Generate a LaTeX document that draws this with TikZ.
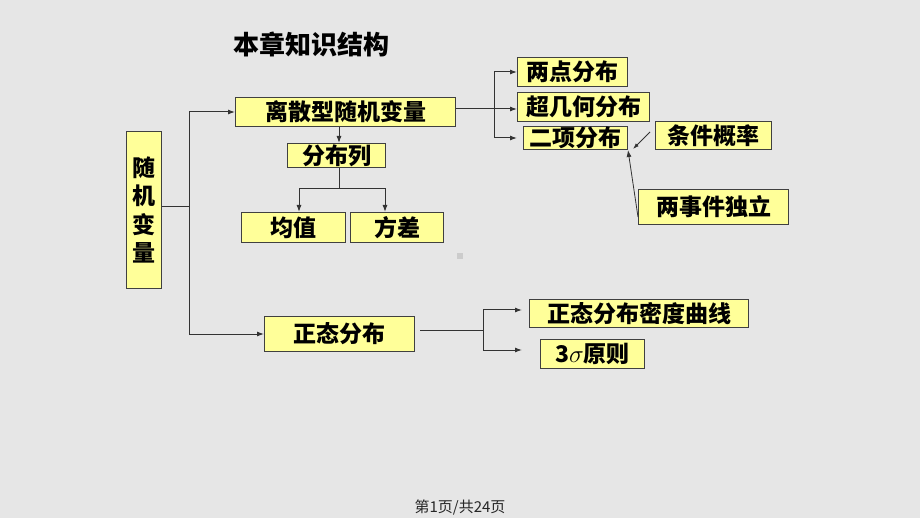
\documentclass[tikz,border=0pt]{standalone}
\usepackage{fontspec}
\newfontfamily\cjk{Noto Sans CJK SC}
\usetikzlibrary{arrows.meta}
\definecolor{bg}{HTML}{E6E6E6}
\definecolor{boxfill}{HTML}{FFFF99}
\definecolor{boxline}{HTML}{404040}
\definecolor{linec}{HTML}{333333}
\tikzset{
  box/.style={draw=boxline, fill=boxfill, line width=1pt, inner sep=0pt, anchor=north west,
    font=\cjk\bfseries\fontsize{23}{26}\selectfont},
  conn/.style={draw=linec, line width=1pt},
  arr/.style={conn, -{Latex[length=7pt,width=5pt]}},
}
\begin{document}
\begin{tikzpicture}[x=1pt,y=-1pt]
\useasboundingbox[fill=bg] (0,0) rectangle (920,518);
% title
\node[font=\cjk\bfseries\fontsize{26}{30}\selectfont] (title) at (311,44) {本章知识结构};
% boxes
\node[box, minimum width=35pt, minimum height=157pt, align=center,
  font=\cjk\bfseries\fontsize{23}{28.3}\selectfont] (rv) at (126,131) {随\\机\\变\\量};
\node[box, minimum width=220pt, minimum height=29pt] (disc) at (235,97) {离散型随机变量};
\node[box, minimum width=98pt, minimum height=24pt] (dlist) at (287,143) {分布列};
\node[box, minimum width=104pt, minimum height=30pt] (mean) at (241,212) {均值};
\node[box, minimum width=93pt, minimum height=30pt] (var) at (350,212) {方差};
\node[box, minimum width=110pt, minimum height=29pt] (twopt) at (517,57) {两点分布};
\node[box, minimum width=132pt, minimum height=29pt] (hyper) at (517,92) {超几何分布};
\node[box, minimum width=104pt, minimum height=23pt] (binom) at (523,126) {二项分布};
\node[box, minimum width=116pt, minimum height=28pt] (cond) at (655,121) {条件概率};
\node[box, minimum width=150pt, minimum height=35pt] (indep) at (638,189) {两事件独立};
\node[box, minimum width=150pt, minimum height=35pt] (norm) at (264,316) {正态分布};
\node[box, minimum width=219pt, minimum height=28pt] (dens) at (529,299) {正态分布密度曲线};
\node[box, minimum width=104pt, minimum height=29pt] (sig) at (540,339) {3\(\sigma\)原则};
% small square
\fill[fill=black!20] (457,253) rectangle (463,259);
% connectors
\coordinate (j1) at (189,207);
\draw[conn] (rv.east |- j1) -- (j1);
\draw[arr] (j1) |- (disc.west);
\draw[arr] (j1) |- (norm.west);
\draw[arr] (disc.south -| 339,0) -- (dlist.north -| 339,0);
\coordinate (j2) at (339,189);
\draw[conn] (dlist.south -| j2) -- (j2);
\draw[arr] (j2) -| (299,212);
\draw[arr] (j2) -| (385,212);
\coordinate (j3) at (494,109);
\draw[conn] (disc.east |- j3) -- (j3);
\draw[arr] (j3) |- (twopt.west);
\draw[arr] (j3) -- (hyper.west |- j3);
\draw[arr] (j3) |- (517,138);
\coordinate (c1) at (650,132);
\coordinate (c2) at (633,149);
\draw[conn, -{Latex[length=6pt,width=4pt]}, line width=0.8pt] (c1) -- (c2);
\draw[conn, -{Latex[length=7pt,width=5pt]}, line width=0.8pt] (indep.west |- 0,217) -- (binom.south east);
\coordinate (j4) at (483,330);
\draw[conn] (420,330) -- (j4);
\draw[arr] (j4) |- (522,310);
\draw[arr] (j4) |- (522,350);
% footer
\node[font=\cjk\fontsize{15}{18}\selectfont, text=black!85] (foot) at (460,508) {第1页/共24页};
\end{tikzpicture}
\end{document}
